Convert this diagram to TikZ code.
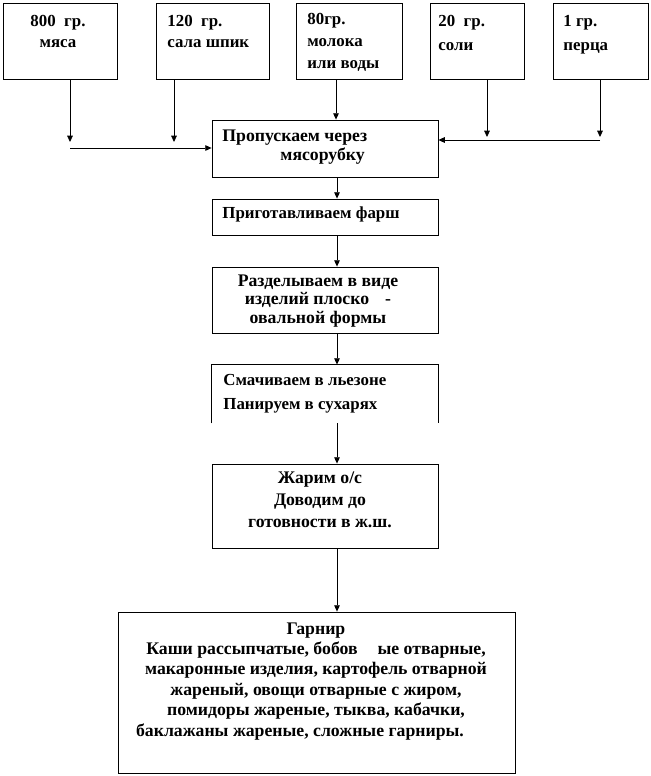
\documentclass[tikz,border=0pt]{standalone}
\usepackage{fontspec}
\setmainfont{Liberation Serif}
\usetikzlibrary{arrows.meta,fit}
\tikzset {>={Triangle[length=4.5pt,width=4pt]}}
\tikzset{box/.style={draw,inner sep=0pt},
  txt/.style={inner sep=0pt,font=\bfseries\fontsize{12}{15.5}\selectfont},
  bigtxt/.style={txt,font=\bfseries\fontsize{12.6}{15.5}\selectfont}}

\begin{document}
\begin{tikzpicture}[x=0.025cm,y=-0.025cm,line width=0.6pt]
\useasboundingbox (0,0) rectangle (651,776);
\foreach \name/\l/\r in {meat/3/117,fat/156/269,milk/296/402,salt/430/524,pepper/553/648} {
  \node[box,fit={(\l,3) (\r,79)}] (\name) {};
}
\node[txt,align=center,anchor=base] (meat text) at (58,48) {800\ \ гр.\\мяса};
\node[txt,align=left,anchor=base west] (fat text) at (167,48) {120\ \ гр.\\сала шпик};
\node[txt,align=left,anchor=base west] (milk text) at (307,68) {80гр.\\молока\\или воды};
\node[txt,align=left,anchor=base west] (salt text) at (438,50) {20\ \ гр.\\[1.5pt]соли};
\node[txt,align=left,anchor=base west] (pepper text) at (563,50) {1 гр.\\[1.5pt]перца};

\node[box,fit={(212,120) (438,177)}] (mincer) {};
\node[bigtxt,align=left,anchor=base west] (mincer text) at (222,160)
  {Пропускаем через\\[-2.5pt]\hspace*{1.45cm}мясорубку};
\node[box,fit={(212,199) (438,235)}] (farsh) {};
\node[txt,anchor=base west] (farsh text) at (222,218) {Приготавливаем фарш};
\node[box,fit={(212,267) (438,333)}] (shape) {};
\node[bigtxt,align=center,anchor=base] (shape text) at (318,323)
  {Разделываем в виде\\[-2.5pt]изделий плоско\hspace{0.4cm}-\\[-2.5pt]овальной формы};
\node[inner sep=0pt,fit={(212,365) (438,423)}] (dip) {};
\draw (dip.south west) -- (dip.north west) -- (dip.north east) -- (dip.south east);
\node[txt,align=left,anchor=base west] (dip text) at (223,409)
  {Смачиваем в льезоне\\[1.5pt]Панируем в сухарях};
\node[box,fit={(212,464) (438,548)}] (fry) {};
\node[bigtxt,align=center,anchor=base] (fry text) at (320,527)
  {Жарим о/с\\Доводим до\\готовности в ж.ш.};
\node[box,fit={(118,612) (515,773)}] (garnish) {};
\node[bigtxt,align=center,anchor=base] (garnish text) at (316,736)
  {Гарнир\\[-1pt]
   Каши рассыпчатые, бобов\hspace{0.5cm}ые отварные,\\[-1pt]
   макаронные изделия, картофель отварной\hspace*{0.8cm}\\[-1pt]
   жареный, овощи отварные с жиром,\hspace*{0.8cm}\\[-1pt]
   помидоры жареные, тыква, кабачки,\hspace*{0.8cm}\\[-1pt]
   баклажаны жареные, сложные гарниры.\hspace*{0.8cm}};

% inputs
\coordinate (left in) at (70,148);
\coordinate (right in) at (600,140);
\coordinate (meat end) at (70,142);
\coordinate (fat end) at (174,142);
\coordinate (salt end) at (487,137);
\coordinate (pepper end) at (600,137);
\coordinate (milk x) at (336,0);
\draw[->] (meat.south -| meat end) -- (meat end);
\draw[->] (fat.south -| fat end) -- (fat end);
\draw[->] (milk.south -| milk x) -- (mincer.north -| milk x);
\draw[->] (salt.south -| salt end) -- (salt end);
\draw[->] (pepper.south -| pepper end) -- (pepper end);
\draw[->] (left in) -- (mincer.west |- left in);
\draw[->] (right in) -- (mincer.east |- right in);

% main line
\coordinate (axis) at (337,0);
\foreach \a/\b in {mincer/farsh,farsh/shape,shape/dip,dip/fry,fry/garnish}
  \draw[->] (\a.south -| axis) -- (\b.north -| axis);

\end{tikzpicture}
\end{document}
